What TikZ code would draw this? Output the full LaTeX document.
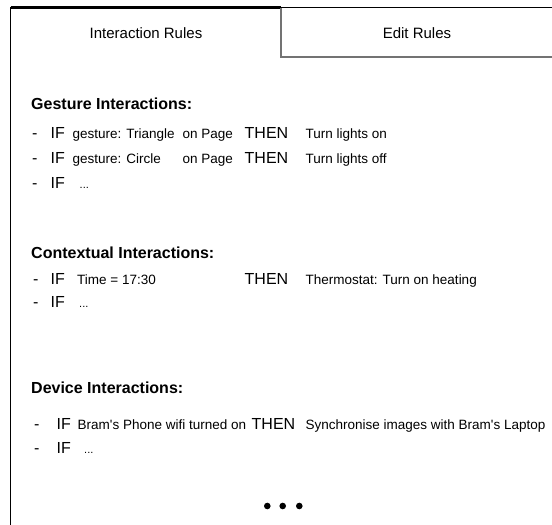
\documentclass[tikz,border=0pt]{standalone}
\usepackage{fontspec}
\setmainfont{Liberation Sans}[Ligatures=TeXOff]
\begin{document}
\begin{tikzpicture}[x=1pt,y=-1pt,
  tablabel/.style={font=\fontsize{15}{18}\selectfont, inner sep=0pt, anchor=base},
  head/.style={font=\bfseries\fontsize{16}{19}\selectfont, anchor=base west, inner sep=0pt},
  kw/.style={font=\fontsize{16}{19}\selectfont, anchor=base west, inner sep=0pt},
  txt/.style={font=\fontsize{13.5}{16}\selectfont, anchor=base west, inner sep=0pt},
  ell/.style={font=\fontsize{11}{13}\selectfont, anchor=base west, inner sep=0pt},
  frameline/.style={line width=1.3pt, black},
  tabline/.style={line width=1.2pt, black!55},
  dot/.style={fill=black}]
\useasboundingbox (0,0) rectangle (552,525);
% frame
\coordinate (tl) at (10.5,7.5);
\coordinate (bl) at (10.5,525);
\coordinate (tm) at (281,7.5);
\coordinate (tr) at (552,7.5);
\coordinate (dm) at (281,57);
\coordinate (dr) at (552,57);
\draw[frameline] (bl) -- (tl) -- (tr);
\draw[line width=2.2pt] (tl) -- (tm);
\draw[tabline] (tm) -- (dm) -- (dr);
% tabs
\node[tablabel] (tab1) at (146,38.5) {Interaction Rules};
\node[tablabel] (tab2) at (417,38.5) {Edit Rules};
% gesture
\node[head] (gh) at (31,109) {Gesture Interactions:};
\node[kw] (g1d) at (32,138.5) {-};
\node[kw] (g1i) at (50.5,138.5) {IF};
\node[txt] (g1c) at (72.5,138.5) {gesture: Triangle};
\node[txt] (g1p) at (182.5,138.5) {on Page};
\node[kw] (g1t) at (244.5,138.5) {THEN};
\node[txt] (g1a) at (305.5,138.5) {Turn lights on};
\node[kw] (g2d) at (32,163) {-};
\node[kw] (g2i) at (50.5,163) {IF};
\node[txt] (g2c) at (72.5,163) {gesture: Circle};
\node[txt] (g2p) at (182.5,163) {on Page};
\node[kw] (g2t) at (244.5,163) {THEN};
\node[txt] (g2a) at (305.5,163) {Turn lights off};
\node[kw] (g3d) at (32,188) {-};
\node[kw] (g3i) at (50.5,188) {IF};
\node[ell] (g3c) at (79.5,188) {...};
% contextual
\node[head] (ch) at (31,258) {Contextual Interactions:};
\node[kw] (c1d) at (33,284.5) {-};
\node[kw] (c1i) at (50.5,284.5) {IF};
\node[txt] (c1c) at (77,284.5) {Time = 17:30};
\node[kw] (c1t) at (244.5,284.5) {THEN};
\node[txt] (c1a) at (305.5,284.5) {Thermostat: Turn on heating};
\node[kw] (c2d) at (33,307) {-};
\node[kw] (c2i) at (50.5,307) {IF};
\node[ell] (c2c) at (79,307) {...};
% device
\node[head] (dh) at (31,393) {Device Interactions:};
\node[kw] (d1d) at (34,429) {-};
\node[kw] (d1i) at (56.5,429) {IF};
\node[txt] (d1c) at (77.5,429) {Bram's Phone wifi turned on};
\node[kw] (d1t) at (251.5,429) {THEN};
\node[txt] (d1a) at (305.5,429) {Synchronise images with Bram's Laptop};
\node[kw] (d2d) at (34,453) {-};
\node[kw] (d2i) at (56.5,453) {IF};
\node[ell] (d2c) at (84,453) {...};
% more
\fill[dot] (267.3,506) circle[radius=3.3pt];
\fill[dot] (282.7,506) circle[radius=3.3pt];
\fill[dot] (299.3,506) circle[radius=3.3pt];
\end{tikzpicture}
\end{document}
